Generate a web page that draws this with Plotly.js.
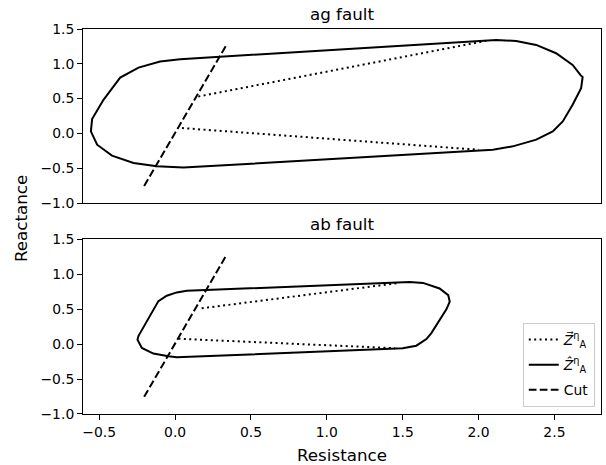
<!DOCTYPE html>
<html><head><meta charset="utf-8">
<script src="https://cdn.plot.ly/plotly-3.0.1.min.js"></script>
<style>body{margin:0;background:#fff}</style>
</head><body><div id="chart" style="width:606px;height:465px"></div>
<script>
// ag fault: estimated trajectory (solid closed loop)
const agSolidR = [0.033, 2.116, 2.248, 2.38, 2.511, 2.62, 2.671, 2.686, 2.676, 2.62, 2.555, 2.489, 2.38, 2.226, 2.094,
                  0.055, -0.12, -0.274, -0.416, -0.514, -0.555, -0.547, -0.472, -0.416, -0.362, -0.241, -0.099, 0.033];
const agSolidX = [1.066, 1.342, 1.328, 1.271, 1.152, 0.984, 0.841, 0.808, 0.650, 0.411, 0.172, 0.029, -0.09, -0.186, -0.234,
                  -0.491, -0.473, -0.424, -0.319, -0.162, 0.029, 0.206, 0.483, 0.650, 0.802, 0.946, 1.032, 1.066];
// ag fault: measured trajectory (dotted)
const agDotR = [0.153, 2.05, null, 0.045, 2.0];
const agDotX = [0.53, 1.33, null, 0.077, -0.235];

// ab fault
const abSolidR = [0.077, 1.546, 1.634, 1.743, 1.80, 1.81, 1.788, 1.689, 1.656, 1.59, 1.50,
                  0.011, -0.044, -0.143, -0.219, -0.248, -0.241, -0.11, -0.055, 0.011, 0.077];
const abSolidX = [0.76, 0.887, 0.873, 0.793, 0.698, 0.604, 0.495, 0.156, 0.071, -0.024, -0.062,
                  -0.19, -0.175, -0.137, -0.057, 0.061, 0.117, 0.613, 0.69, 0.737, 0.76];
const abDotR = [0.175, 1.48, null, 0.022, 1.45];
const abDotX = [0.51, 0.873, null, 0.075, -0.06];

// cut line (same in both panels)
const cutR = [-0.204, 0.337];
const cutX = [-0.755, 1.265];

const titles = ['ag fault', 'ab fault'];
const legendNames = ['<i>Z\u20D7</i><sup>η</sup><sub>A</sub>', '<i>Ẑ</i><sup>η</sup><sub>A</sub>', 'Cut'];

const FONT = 'DejaVu Sans, sans-serif';
const dotted = {color: 'black', width: 2, dash: '2px,3.4px'};
const solid = {color: 'black', width: 2};
const dashed = {color: 'black', width: 2, dash: '7.7px,3.3px'};

const traces = [
  {x: agDotR, y: agDotX, xaxis: 'x', yaxis: 'y', mode: 'lines', line: dotted, showlegend: false, connectgaps: false},
  {x: agSolidR, y: agSolidX, xaxis: 'x', yaxis: 'y', mode: 'lines', line: solid, showlegend: false},
  {x: cutR, y: cutX, xaxis: 'x', yaxis: 'y', mode: 'lines', line: dashed, showlegend: false},
  {x: abDotR, y: abDotX, xaxis: 'x2', yaxis: 'y2', mode: 'lines', line: dotted, name: legendNames[0], legendgroup: 'a', connectgaps: false},
  {x: abSolidR, y: abSolidX, xaxis: 'x2', yaxis: 'y2', mode: 'lines', line: solid, name: legendNames[1], legendgroup: 'b'},
  {x: cutR, y: cutX, xaxis: 'x2', yaxis: 'y2', mode: 'lines', line: dashed, name: legendNames[2], legendgroup: 'c'}
];

const axBase = {
  showline: true, mirror: true, linecolor: 'black', linewidth: 1,
  showgrid: false, zeroline: false, ticks: 'outside', ticklen: 5, tickwidth: 1, tickcolor: 'black',
  tickfont: {family: FONT, size: 13.9, color: 'black'}, tickformat: '.1f'
};
const xr = [-0.607, 2.807];
const yr = [-1.0, 1.5];

const layout = {
  width: 606, height: 465,
  margin: {l: 83, r: 5, t: 29, b: 51},
  paper_bgcolor: 'white', plot_bgcolor: 'white',
  font: {family: FONT, size: 13.9, color: 'black'},
  xaxis: Object.assign({}, axBase, {domain: [0, 1], range: xr, anchor: 'y', showticklabels: false, ticks: '', dtick: 0.5, tick0: 0}),
  yaxis: Object.assign({}, axBase, {domain: [0.548, 1], range: yr, anchor: 'x', dtick: 0.5, tick0: 0}),
  xaxis2: Object.assign({}, axBase, {domain: [0, 1], range: xr, anchor: 'y2', dtick: 0.5, tick0: 0}),
  yaxis2: Object.assign({}, axBase, {domain: [0, 0.4545], range: yr, anchor: 'x2', dtick: 0.5, tick0: 0}),
  showlegend: true,
  legend: {x: 0.988, y: 0.018, xanchor: 'right', yanchor: 'bottom', bgcolor: 'rgba(255,255,255,0.8)',
    bordercolor: '#cccccc', borderwidth: 1, tracegroupgap: 4, font: {family: FONT, size: 13.9, color: 'black'}},
  annotations: [
    {text: titles[0], xref: 'paper', yref: 'paper', x: 0.5, y: 1, xanchor: 'center', yanchor: 'bottom', yshift: 3,
     showarrow: false, font: {family: FONT, size: 16.7, color: 'black'}},
    {text: titles[1], xref: 'paper', yref: 'paper', x: 0.5, y: 0.4545, xanchor: 'center', yanchor: 'bottom', yshift: 3,
     showarrow: false, font: {family: FONT, size: 16.7, color: 'black'}},
    {text: 'Reactance', xref: 'paper', yref: 'paper', x: -0.1197, y: 0.509, xanchor: 'center', yanchor: 'middle',
     textangle: -90, showarrow: false, font: {family: FONT, size: 16.7, color: 'black'}},
    {text: 'Resistance', xref: 'paper', yref: 'paper', x: 0.5, y: -0.1065, xanchor: 'center', yanchor: 'middle',
     showarrow: false, font: {family: FONT, size: 16.7, color: 'black'}}
  ]
};

Plotly.newPlot('chart', traces, layout, {staticPlot: true, displayModeBar: false});
</script>
</body></html>
